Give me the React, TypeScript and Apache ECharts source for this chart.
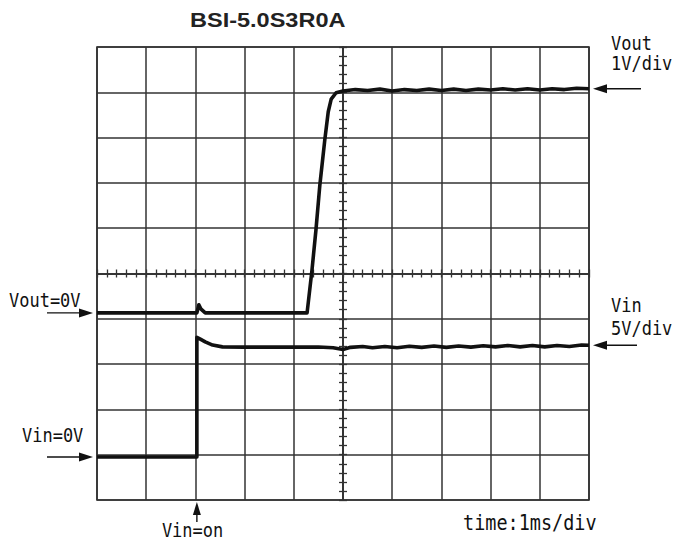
import React, { useEffect, useRef } from "react";
import * as echarts from "echarts";

// ---- Data ----
const TITLE = "BSI-5.0S3R0A";
// time axis: 1 ms/div, 10 divisions (0..10 ms)
const T_MIN = 0;
const T_MAX = 10;
// vertical: 10 divisions, each channel has its own scale and zero position (in divisions from centre)
const VOUT_SCALE = 1; // V/div
const VIN_SCALE = 5; // V/div
const VOUT_ZERO_DIV = -0.87;
const VIN_ZERO_DIV = -4.05;
const VIN_ON_TIME = 2.03; // ms

const voutTime = [
  0, 2.03, 2.07, 2.11, 2.2, 4.27, 4.37, 4.45, 4.53, 4.63, 4.7, 4.76, 4.86,
  5.0, 5.25, 5.5, 5.75, 6.0, 6.25, 6.5, 6.75, 7.0, 7.25, 7.5, 7.75, 8.0, 8.25,
  8.5, 8.75, 9.0, 9.25, 9.5, 9.75, 10,
];
const voutVolts = [
  0, 0, 0.18, 0.09, 0, 0, 0.95, 1.83, 2.83, 3.82, 4.44, 4.72, 4.86,
  4.9, 4.93, 4.91, 4.94, 4.9, 4.93, 4.91, 4.94, 4.91, 4.94, 4.91, 4.94, 4.92,
  4.95, 4.92, 4.95, 4.92, 4.95, 4.93, 4.96, 4.95,
];
const vinTime = [
  0, 2.03, 2.03, 2.1, 2.2, 2.35, 2.55, 3.0, 4.0, 4.5, 4.8, 5.0, 5.15, 5.4,
  5.6, 5.85, 6.1, 6.35, 6.6, 6.85, 7.1, 7.35, 7.6, 7.85, 8.1, 8.35, 8.6, 8.85,
  9.1, 9.35, 9.6, 9.85, 10,
];
const vinVolts = [
  0, 0, 13.2, 13.0, 12.7, 12.35, 12.15, 12.12, 12.12, 12.14, 12.05, 11.85,
  12.1, 12.2, 12.05, 12.2, 12.05, 12.22, 12.1, 12.25, 12.1, 12.25, 12.12,
  12.27, 12.15, 12.3, 12.15, 12.3, 12.15, 12.3, 12.2, 12.35, 12.33,
];

const LABEL_VOUT = ["Vout", "1V/div"];
const LABEL_VIN = ["Vin", "5V/div"];
const LABEL_VOUT_ZERO = "Vout=0V";
const LABEL_VIN_ZERO = "Vin=0V";
const LABEL_VIN_ON = "Vin=on";
const LABEL_TIME = "time:1ms/div";

const INK = "#111";
const GRIDC = "#333";
const MONO = "'DejaVu Sans Mono', 'Liberation Mono', monospace";

const tCenter = (T_MIN + T_MAX) / 2;
const toX = (t: number) => t - tCenter;

export default function App() {
  const ref = useRef<HTMLDivElement>(null);
  useEffect(() => {
    if (!ref.current) return;
    const chart = echarts.init(ref.current, undefined, { renderer: "svg" });

    const voutData = voutTime.map((t, i) => [toX(t), voutVolts[i] / VOUT_SCALE + VOUT_ZERO_DIV]);
    const vinData = vinTime.map((t, i) => [toX(t), vinVolts[i] / VIN_SCALE + VIN_ZERO_DIV]);

    const baseAxis = {
      type: "value" as const,
      min: -5,
      max: 5,
      interval: 1,
      axisLabel: { show: false },
      axisLine: { show: true, onZero: true, lineStyle: { color: GRIDC, width: 1.5 } },
      axisTick: { show: true, length: 4, lineStyle: { color: GRIDC, width: 1.3 } },
      minorTick: { show: true, splitNumber: 5, length: 4, lineStyle: { color: GRIDC, width: 1.3 } },
      minorSplitLine: { show: false },
    };

    chart.setOption({
      animation: false,
      backgroundColor: "#fff",
      grid: {
        left: 97,
        right: 86,
        top: 47,
        bottom: 47,
        show: true,
        borderColor: GRIDC,
        borderWidth: 1.7,
        backgroundColor: "transparent",
      },
      xAxis: [
        { ...baseAxis, position: "bottom", splitLine: { show: true, lineStyle: { color: GRIDC, width: 1.5 } } },
        { ...baseAxis, position: "top", splitLine: { show: false } },
      ],
      yAxis: [
        { ...baseAxis, position: "left", splitLine: { show: true, lineStyle: { color: GRIDC, width: 1.5 } } },
        { ...baseAxis, position: "right", splitLine: { show: false } },
      ],
      series: [
        {
          type: "line",
          name: "Vout",
          data: voutData,
          showSymbol: false,
          symbol: "none",
          lineStyle: { color: INK, width: 3.6, join: "round" },
          z: 10,
        },
        {
          type: "line",
          name: "Vin",
          data: vinData,
          showSymbol: false,
          symbol: "none",
          lineStyle: { color: INK, width: 3.6, join: "round" },
          z: 10,
        },
      ],
    });

    const px = (x: number, y: number) =>
      chart.convertToPixel({ xAxisIndex: 0, yAxisIndex: 0 }, [x, y]) as number[];

    const gridLeft = px(-5, 0)[0];
    const gridRight = px(5, 0)[0];
    const gridBottom = px(0, -5)[1];

    const yVoutEnd = px(0, voutVolts[voutVolts.length - 1] / VOUT_SCALE + VOUT_ZERO_DIV)[1];
    const yVinEnd = px(0, vinVolts[vinVolts.length - 1] / VIN_SCALE + VIN_ZERO_DIV)[1];
    const yVoutZero = px(0, VOUT_ZERO_DIV)[1];
    const yVinZero = px(0, VIN_ZERO_DIV)[1];
    const xVinOn = px(toX(VIN_ON_TIME), 0)[0];

    const arrowStyle = { stroke: INK, lineWidth: 1.4 };
    const headStyle = { fill: INK };
    const leftArrow = (tipX: number, y: number, tailX: number) => [
      { type: "line", shape: { x1: tipX + 8, y1: y, x2: tailX, y2: y }, style: arrowStyle, z: 20 },
      { type: "polygon", shape: { points: [[tipX, y], [tipX + 14, y - 4.5], [tipX + 14, y + 4.5]] }, style: headStyle, z: 20 },
    ];
    const rightArrow = (tipX: number, y: number, tailX: number) => [
      { type: "line", shape: { x1: tailX, y1: y, x2: tipX - 8, y2: y }, style: arrowStyle, z: 20 },
      { type: "polygon", shape: { points: [[tipX, y], [tipX - 14, y - 4.5], [tipX - 14, y + 4.5]] }, style: headStyle, z: 20 },
    ];
    const upArrow = (x: number, tipY: number, tailY: number) => [
      { type: "line", shape: { x1: x, y1: tipY + 8, x2: x, y2: tailY }, style: arrowStyle, z: 20 },
      { type: "polygon", shape: { points: [[x, tipY], [x - 4, tipY + 13], [x + 4, tipY + 13]] }, style: headStyle, z: 20 },
    ];
    const mono = (text: string, x: number, y: number, size = 17) => ({
      type: "text",
      x,
      y,
      scaleY: 1.15,
      z: 20,
      style: {
        text,
        fontFamily: MONO,
        fontSize: size,
        fill: INK,
        align: "left",
        verticalAlign: "top",
        textAlign: "left",
        textVerticalAlign: "top",
      },
    });

    const rx = gridRight + 22;

    chart.setOption({
      graphic: [
        {
          type: "text",
          x: 190,
          y: 9,
          scaleX: 1.12,
          z: 20,
          style: {
            text: TITLE,
            fontFamily: "'Liberation Sans', Arial, sans-serif",
            fontWeight: "bold",
            fontSize: 21,
            fill: "#222",
            align: "left",
            verticalAlign: "top",
            textAlign: "left",
            textVerticalAlign: "top",
          },
        },
        mono(LABEL_VOUT[0], rx, 33),
        mono(LABEL_VOUT[1], rx, 53),
        ...leftArrow(gridRight + 4, yVoutEnd, gridRight + 52),
        mono(LABEL_VIN[0], rx, 295),
        mono(LABEL_VIN[1], rx, 318),
        ...leftArrow(gridRight + 4, yVinEnd, gridRight + 48),
        mono(LABEL_VOUT_ZERO, 9, 290),
        ...rightArrow(gridLeft - 4, yVoutZero, 47),
        mono(LABEL_VIN_ZERO, 22, 425),
        ...rightArrow(gridLeft - 4, yVinZero, 47),
        ...upArrow(xVinOn, gridBottom + 2, gridBottom + 22),
        mono(LABEL_VIN_ON, xVinOn - 35, 520),
        mono(LABEL_TIME, 463, 512, 18.5),
      ],
    });

    return () => chart.dispose();
  }, []);

  return (
    <div
      ref={ref}
      style={{ position: "absolute", left: 0, top: 0, width: 675, height: 547, background: "#fff" }}
    />
  );
}
